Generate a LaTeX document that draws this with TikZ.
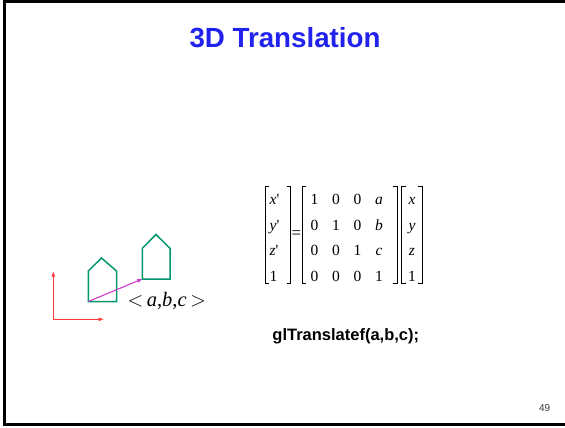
\documentclass[tikz,border=0pt]{standalone}
\usepackage{fontspec}
\setmainfont{Liberation Serif}
\newfontfamily\arialfont{Liberation Sans}
\usetikzlibrary{arrows.meta}
\definecolor{titleblue}{RGB}{34,34,238}
\definecolor{housegreen}{RGB}{0,150,110}
\definecolor{arrowmag}{RGB}{204,60,204}
\definecolor{axisred}{RGB}{255,60,60}
\definecolor{pagegray}{RGB}{60,60,60}
\begin{document}
\begin{tikzpicture}[x=1pt,y=-1pt,
  ent/.style={inner sep=0pt,anchor=base,font=\fontsize{15.5}{17}\selectfont},
  lent/.style={ent,anchor=base west},
  brk/.style={line width=0.8pt},
  house/.style={draw=housegreen,line width=1.5pt,line join=miter},
  vec/.style={draw=arrowmag,line width=1.1pt,-{Triangle[length=5pt,width=3.5pt]}},
  axis/.style={draw=axisred,line width=0.9pt,-{Triangle[length=5pt,width=3.5pt]}}]
\useasboundingbox (0,0) rectangle (565,428);
\fill[white] (0,0) rectangle (565,428);
% frame
\draw[line width=2.5pt] (566,1.3) -- (4.7,1.3) -- (4.7,424.3) -- (566,424.3);
% title
\node[inner sep=0pt,anchor=base,text=titleblue,font=\arialfont\bfseries\fontsize{27.7}{30}\selectfont] (title) at (285,48) {3D Translation};
% lhs vector
\node[lent] (l1) at (269.5,204.5) {\textit{x}\textquotesingle};
\node[lent] (l2) at (269.5,230) {\textit{y}\textquotesingle};
\node[lent] (l3) at (269.5,255.5) {\textit{z}\textquotesingle};
\node[lent] (l4) at (269.5,281) {1};
\node[inner sep=0pt,anchor=center,font=\fontsize{17}{18}\selectfont] (eq) at (296.3,234.5) {=};
% matrix
\node[ent] (m11) at (314.5,204.5) {1};
\node[ent] (m12) at (336,204.5) {0};
\node[ent] (m13) at (357.5,204.5) {0};
\node[ent] (m14) at (379,204.5) {\textit{a}};
\node[ent] (m21) at (314.5,230) {0};
\node[ent] (m22) at (336,230) {1};
\node[ent] (m23) at (357.5,230) {0};
\node[ent] (m24) at (379,230) {\textit{b}};
\node[ent] (m31) at (314.5,255.5) {0};
\node[ent] (m32) at (336,255.5) {0};
\node[ent] (m33) at (357.5,255.5) {1};
\node[ent] (m34) at (379,255.5) {\textit{c}};
\node[ent] (m41) at (314.5,281) {0};
\node[ent] (m42) at (336,281) {0};
\node[ent] (m43) at (357.5,281) {0};
\node[ent] (m44) at (379,281) {1};
% rhs vector
\node[ent] (r1) at (412,204.5) {\textit{x}};
\node[ent] (r2) at (412,230) {\textit{y}};
\node[ent] (r3) at (412,255.5) {\textit{z}};
\node[ent] (r4) at (412,281) {1};
% brackets
\foreach \a/\b in {265.3/290.5,302/397,401.5/422}{
  \draw[brk] (\a+4,186.5) -- (\a,186.5) -- (\a,283) -- (\a+4,283);
  \draw[brk] (\b-4,186.5) -- (\b,186.5) -- (\b,283) -- (\b-4,283);
}
% code
\node[inner sep=0pt,anchor=base,font=\arialfont\bfseries\fontsize{16.5}{18}\selectfont] (code) at (345.8,340) {glTranslatef(a,b,c);};
% page number
\node[inner sep=0pt,anchor=base,text=pagegray,font=\arialfont\fontsize{10}{12}\selectfont] (pg) at (544.7,411) {49};
% houses
\coordinate (h1bl) at (88.3,301.5);
\coordinate (h1br) at (116.5,301.5);
\coordinate (h1rt) at (116.5,271);
\coordinate (h1ap) at (101.5,258);
\coordinate (h1lt) at (88.3,271);
\draw[house] (h1bl) -- (h1br) -- (h1rt) -- (h1ap) -- (h1lt) -- cycle;
\coordinate (h2bl) at (142.3,279);
\coordinate (h2br) at (170,279);
\coordinate (h2rt) at (170,248.3);
\coordinate (h2ap) at (156,234.5);
\coordinate (h2lt) at (142.3,248.3);
\draw[house] (h2bl) -- (h2br) -- (h2rt) -- (h2ap) -- (h2lt) -- cycle;
% translation vector
\draw[vec] (h1bl) -- (h2bl);
% axes
\coordinate (o) at (53.3,319.3);
\coordinate (ay) at (53.3,271.7);
\coordinate (ax) at (103.5,319.3);
\draw[axis] (o) -- (ay);
\draw[axis] (o) -- (ax);
% label
\node[inner sep=0pt,anchor=base,font=\fontsize{20.5}{22}\selectfont] (lbl) at (166.7,306) {$<$\,\textit{a},\textit{b},\textit{c}\,$>$};
\end{tikzpicture}
\end{document}
